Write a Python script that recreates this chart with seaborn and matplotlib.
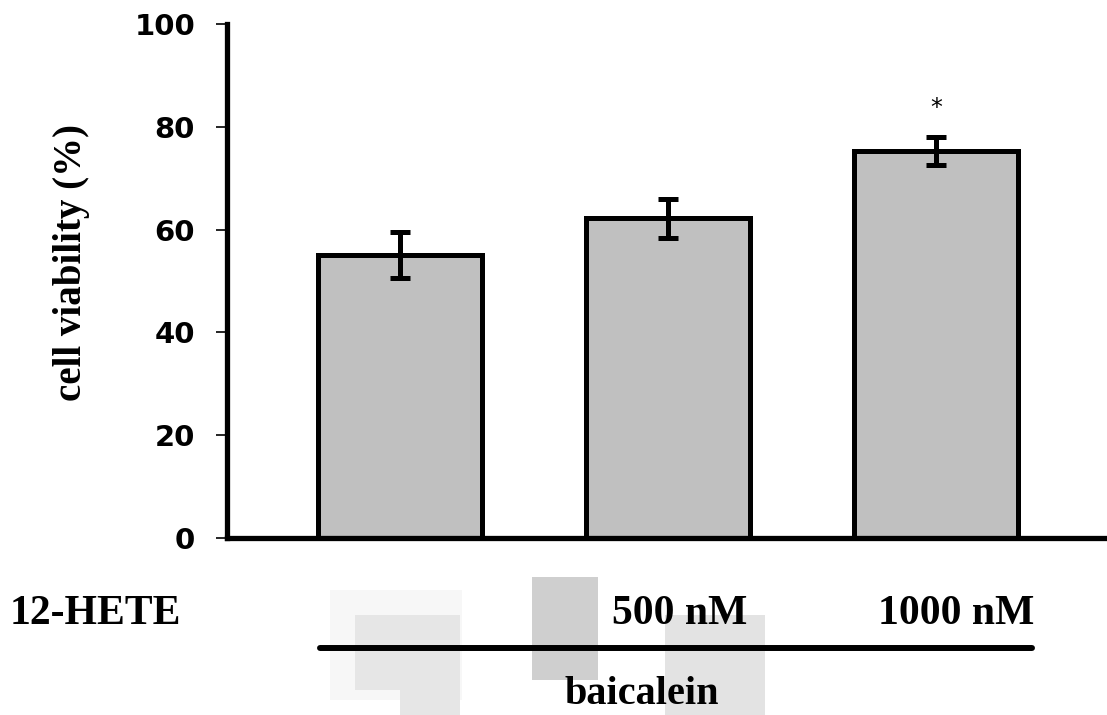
import matplotlib
matplotlib.use("Agg")
import matplotlib.pyplot as plt
import seaborn as sns
import pandas as pd
from matplotlib.lines import Line2D
from matplotlib.patches import Rectangle

# values
groups = ["12-HETE", "500 nM", "1000 nM"]
viability = [55.0, 62.2, 75.3]
err = [4.5, 3.8, 2.8]
stars = ["", "", "*"]

df = pd.DataFrame({"group": groups, "viability": viability})

sns.set_style("white")
plt.rcParams["font.family"] = ["DejaVu Sans"]
plt.rcParams["text.color"] = "black"
plt.rcParams["ytick.color"] = "black"
plt.rcParams["ytick.labelcolor"] = "black"

W, H = 1107, 715
fig = plt.figure(figsize=(W / 100, H / 100), dpi=100)


def fx(x):
    return x / W


def fy(y):
    return 1 - y / H


ax = fig.add_axes([fx(227), fy(538), fx(1107) - fx(227), fy(24) - fy(538)])

sns.barplot(data=df, x="group", y="viability", order=groups, color="#c0c0c0",
            saturation=1, edgecolor="black", linewidth=3.6, width=0.612,
            errorbar=None, ax=ax, zorder=2)
eb = ax.errorbar(range(len(groups)), viability, yerr=err, fmt="none", ecolor="black",
                 elinewidth=3.6, capsize=7.5, capthick=3.6, zorder=3)
for cap in eb[1]:
    cap.set_solid_capstyle("round")
for i, s in enumerate(stars):
    if s:
        ax.text(i, viability[i] + err[i] + 3.3, s, ha="center", va="bottom",
                fontsize=17, color="black")

ax.set_xlim(-0.646, 2.638)
ax.set_ylim(0, 100)
ax.set_yticks([0, 20, 40, 60, 80, 100])
ax.set_xticks([])
ax.set_xlabel("")
ax.set_ylabel("")
for lab in ax.get_yticklabels():
    lab.set_fontweight("bold")
    lab.set_color("black")
ax.tick_params(axis="y", direction="out", length=8, width=1.2, pad=15,
               labelsize=21, color="black", labelcolor="black", left=True)
sns.despine(ax=ax)
for sp in ["left", "bottom"]:
    ax.spines[sp].set_linewidth(3.8)
    ax.spines[sp].set_color("black")
ax.patch.set_alpha(0)

serif = dict(family=["Liberation Serif", "DejaVu Serif"], fontweight="bold",
             color="black")

fig.text(fx(72), fy(262), "cell viability (%)", rotation=90, ha="center",
         va="center", fontsize=28, **serif)

# faint gray blocks in the lower panel
for (x0, y0, x1, y1, c) in [(330, 590, 462, 700, "#f7f7f7"),
                            (355, 615, 460, 690, "#e6e6e6"),
                            (400, 688, 460, 715, "#e6e6e6"),
                            (532, 577, 598, 680, "#cfcfcf"),
                            (665, 615, 765, 715, "#e3e3e3")]:
    fig.add_artist(Rectangle((fx(x0), fy(y1)), fx(x1) - fx(x0), fy(y0) - fy(y1),
                             transform=fig.transFigure, color=c, lw=0, zorder=0))

fig.text(fx(10), fy(614), "12-HETE", ha="left", va="center", fontsize=30, **serif)
fig.text(fx(680), fy(614), "500 nM", ha="center", va="center", fontsize=30, **serif)
fig.text(fx(956), fy(614), "1000 nM", ha="center", va="center", fontsize=30, **serif)
fig.add_artist(Line2D([fx(320), fx(1032)], [fy(648), fy(648)], color="black",
                      lw=4.3, transform=fig.transFigure, zorder=2))
fig.text(fx(642), fy(694), "baicalein", ha="center", va="center", fontsize=29, **serif)

fig.savefig("out.png", dpi=100)
